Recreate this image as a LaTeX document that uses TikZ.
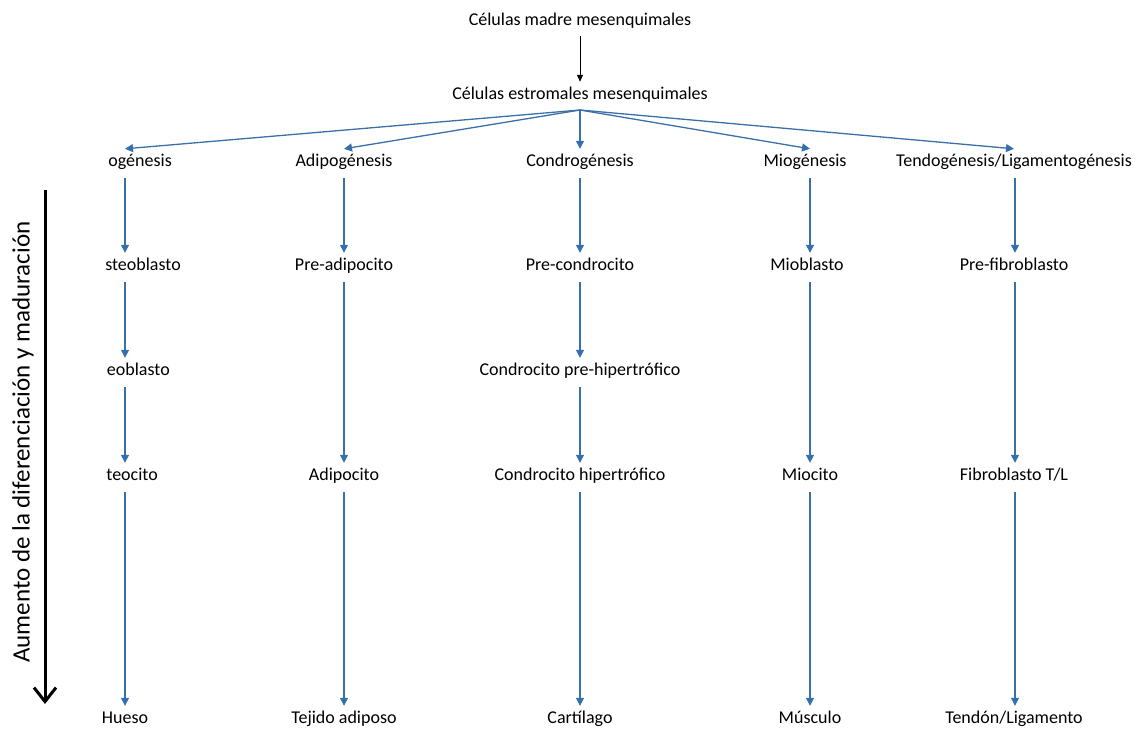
\documentclass[tikz,border=0pt]{standalone}
\usepackage{fontspec}
\setmainfont{Carlito}
\usetikzlibrary{arrows.meta}
\definecolor{bl}{RGB}{58,112,168}
\definecolor{bltip}{RGB}{40,112,190}
\tikzset{
  lbl/.style={inner xsep=0pt, inner ysep=5.5pt, text height=12pt, text depth=5pt, font=\fontsize{18}{21}\selectfont},
  barr/.style={draw=bl, line width=1.3pt, shorten <=1pt, -{Triangle[length=8pt,width=8pt,fill=bltip]}},
  karr/.style={draw=black, line width=1pt, -{Triangle[length=7pt,width=6pt]}},
}
\begin{document}
\begin{tikzpicture}[x=1pt,y=-1pt]
\useasboundingbox (0,0) rectangle (1140,729);
% column axes
\coordinate (c1) at (125,0);
\coordinate (c2) at (344,0);
\coordinate (c3) at (580,0);
\coordinate (c4) at (810,0);
\coordinate (c5) at (1015,0);
% top
\node[lbl] (msc) at (580,22) {Células madre mesenquimales};
\node[lbl] (est) at (580,96) {Células estromales mesenquimales};
\draw[karr] (msc.south) -- (est.north);
% row 1
\node[lbl, anchor=east] (h1) at (172,163) {ogénesis};
\node[lbl] (h2) at (344,163) {Adipogénesis};
\node[lbl] (h3) at (580,163) {Condrogénesis};
\node[lbl] (h4) at (805,163) {Miogénesis};
\node[lbl] (h5) at (1014,163) {Tendogénesis/Ligamentogénesis};
% row 2
\node[lbl, anchor=east] (a1) at (181,267) {steoblasto};
\node[lbl] (a2) at (344,267) {Pre-adipocito};
\node[lbl] (a3) at (580,267) {Pre-condrocito};
\node[lbl] (a4) at (807,267) {Mioblasto};
\node[lbl] (a5) at (1014,267) {Pre-fibroblasto};
% row 3
\node[lbl, anchor=east] (b1) at (170,372) {eoblasto};
\node[lbl] (b3) at (580,372) {Condrocito pre-hipertrófico};
% row 4
\node[lbl, anchor=east] (d1) at (158,477) {teocito};
\node[lbl] (d2) at (344,477) {Adipocito};
\node[lbl] (d3) at (580,477) {Condrocito hipertrófico};
\node[lbl] (d4) at (810,477) {Miocito};
\node[lbl] (d5) at (1014,477) {Fibroblasto T/L};
% row 5
\node[lbl] (e1) at (125,720) {Hueso};
\node[lbl] (e2) at (344,720) {Tejido adiposo};
\node[lbl] (e3) at (580,720) {Cartílago};
\node[lbl] (e4) at (810,720) {Músculo};
\node[lbl] (e5) at (1014,720) {Tendón/Ligamento};
% fan
\coordinate (fan) at (580,110);
\tikzset{fanarr/.style={barr, shorten <=0pt}}
\draw[fanarr] (fan) -- (h1.north -| c1);
\draw[fanarr] (fan) -- (h2.north);
\draw[fanarr] (fan) -- (h3.north);
\draw[fanarr] (fan) -- (h4.north -| c4);
\draw[fanarr] (fan) -- (h5.north);
% column 1
\draw[barr] (h1.south -| c1) -- (a1.north -| c1);
\draw[barr] (a1.south -| c1) -- (b1.north -| c1);
\draw[barr] (b1.south -| c1) -- (d1.north -| c1);
\draw[barr] (d1.south -| c1) -- (e1.north -| c1);
% column 2
\draw[barr] (h2.south) -- (a2.north);
\draw[barr] (a2.south) -- (d2.north);
\draw[barr] (d2.south) -- (e2.north);
% column 3
\draw[barr] (h3.south) -- (a3.north);
\draw[barr] (a3.south) -- (b3.north);
\draw[barr] (b3.south) -- (d3.north);
\draw[barr] (d3.south) -- (e3.north);
% column 4
\draw[barr] (h4.south -| c4) -- (a4.north -| c4);
\draw[barr] (a4.south -| c4) -- (d4.north -| c4);
\draw[barr] (d4.south -| c4) -- (e4.north -| c4);
% column 5
\draw[barr] (h5.south -| c5) -- (a5.north -| c5);
\draw[barr] (a5.south -| c5) -- (d5.north -| c5);
\draw[barr] (d5.south -| c5) -- (e5.north -| c5);
% maturation axis
\coordinate (axT) at (45,190);
\coordinate (axB) at (45,704);
\draw[line width=3pt, -{Straight Barb[length=14pt,width=22pt,line width=3pt]}] (axT) -- (axB);
\node[rotate=90, font=\fontsize{25}{29}\selectfont, inner sep=0pt] (axl) at (23,442) {Aumento de la diferenciación y maduración};
\end{tikzpicture}
\end{document}
